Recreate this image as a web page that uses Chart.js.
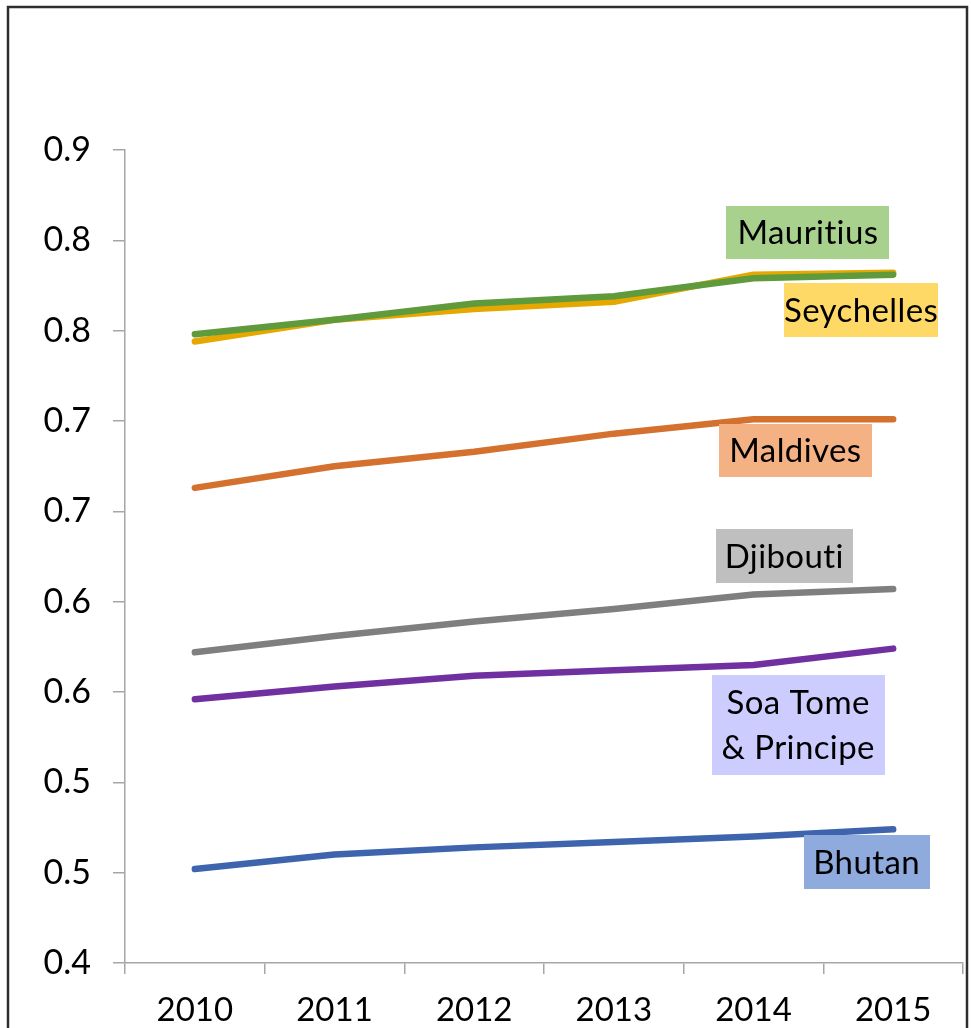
<!DOCTYPE html>
<html>
<head>
<meta charset="utf-8">
<title>Human Development Index, small island and small states, 2010–2015</title>
<script src="https://cdn.jsdelivr.net/npm/chart.js@4.4.1/dist/chart.umd.min.js"></script>
<style>
  html, body { margin: 0; padding: 0; background: #ffffff; }
  canvas { display: block; }
</style>
</head>
<body>
<canvas id="hdi" width="971" height="1028"></canvas>
<script>
// Years on the horizontal axis
const years = ['2010', '2011', '2012', '2013', '2014', '2015'];

// Index values per country
const mauritius  = [0.748, 0.756, 0.765, 0.769, 0.779, 0.781];
const seychelles = [0.744, 0.756, 0.762, 0.766, 0.781, 0.782];
const maldives   = [0.663, 0.675, 0.683, 0.693, 0.701, 0.701];
const djibouti   = [0.572, 0.581, 0.589, 0.596, 0.604, 0.607];
const saoTome    = [0.546, 0.553, 0.559, 0.562, 0.565, 0.574];
const bhutan     = [0.452, 0.460, 0.464, 0.467, 0.470, 0.474];

// Vertical axis labels, shown with one decimal
const yTickLabels = ['0.4', '0.5', '0.5', '0.6', '0.6', '0.7', '0.7', '0.8', '0.8', '0.9'];

const FONT = 'Lato, "Open Sans", sans-serif';
const AXIS_GREY = '#a6a6a6';

// Name tags placed beside the line ends (category index, value)
const nameTags = [
  { lines: ['Mauritius'],               at: [4.39, 0.8043], fill: '#a9d18e', w: 163, h: 53 },
  { lines: ['Seychelles'],              at: [4.77, 0.7614], fill: '#ffd966', w: 154, h: 54 },
  { lines: ['Maldives'],                at: [4.30, 0.6837], fill: '#f4b183', w: 153, h: 53 },
  { lines: ['Djibouti'],                at: [4.22, 0.6253], fill: '#bfbfbf', w: 137, h: 54 },
  { lines: ['Soa Tome', '& Principe'],  at: [4.32, 0.5317], fill: '#ccccff', w: 173, h: 100 },
  { lines: ['Bhutan'],                  at: [4.81, 0.4559], fill: '#8faadc', w: 126, h: 54 }
];

const framePlugin = {
  id: 'frame',
  beforeDraw(chart) {
    const { ctx, width, height } = chart;
    ctx.save();
    ctx.fillStyle = '#ffffff';
    ctx.fillRect(0, 0, width, height);
    ctx.strokeStyle = '#2e2e2e';
    ctx.lineWidth = 2.5;
    ctx.strokeRect(8, 7, 959, height + 20);
    ctx.restore();
  }
};

const tagPlugin = {
  id: 'nameTags',
  afterDatasetsDraw(chart) {
    const { ctx, scales } = chart;
    ctx.save();
    ctx.font = '33px ' + FONT;
    // a touch of spacing keeps "ti" from turning into a ligature
    ctx.letterSpacing = '0.4px';
    ctx.textAlign = 'center';
    ctx.textBaseline = 'middle';
    nameTags.forEach(tag => {
      const cx = scales.x.getPixelForDecimal((tag.at[0] + 0.5) / years.length);
      const cy = scales.y.getPixelForValue(tag.at[1]);
      ctx.fillStyle = tag.fill;
      ctx.fillRect(Math.round(cx - tag.w / 2), Math.round(cy - tag.h / 2), tag.w, tag.h);
      ctx.fillStyle = '#000000';
      const lh = 45;
      const y0 = cy - (tag.lines.length - 1) * lh / 2;
      tag.lines.forEach((t, i) => ctx.fillText(t, cx, y0 + i * lh + 1));
    });
    ctx.restore();
  }
};

function series(label, data, color) {
  return {
    label, data,
    borderColor: color,
    backgroundColor: color,
    borderWidth: 6.5,
    borderCapStyle: 'round',
    borderJoinStyle: 'round',
    pointRadius: 0,
    tension: 0,
    fill: false
  };
}

new Chart(document.getElementById('hdi'), {
  type: 'line',
  data: {
    labels: years,
    datasets: [
      series('Bhutan', bhutan, '#3d64ad'),
      series('Soa Tome & Principe', saoTome, '#7030a0'),
      series('Djibouti', djibouti, '#7f7f7f'),
      series('Maldives', maldives, '#d5712f'),
      series('Mauritius', mauritius, '#5f9a3c'),
      series('Seychelles', seychelles, '#e5a800')
    ]
  },
  options: {
    responsive: false,
    animation: false,
    layout: { padding: { top: 150, right: 8, left: 0, bottom: 0 } },
    plugins: {
      legend: { display: false },
      tooltip: { enabled: false }
    },
    scales: {
      x: {
        type: 'category',
        offset: true,
        grid: {
          offset: true,
          drawOnChartArea: false,
          drawTicks: true,
          tickLength: 11,
          color: AXIS_GREY,
          lineWidth: 1.5
        },
        border: { color: AXIS_GREY, width: 1.5 },
        ticks: {
          color: '#000000',
          font: { family: FONT, size: 33 },
          padding: 17,
          maxRotation: 0,
          autoSkip: false
        },
        afterFit(scale) { scale.height = 65; }
      },
      y: {
        min: 0.4,
        max: 0.85,
        grid: {
          drawOnChartArea: false,
          drawTicks: true,
          tickLength: 12,
          color: AXIS_GREY,
          lineWidth: 1.5
        },
        border: { color: AXIS_GREY, width: 1.5 },
        ticks: {
          stepSize: 0.05,
          color: '#000000',
          font: { family: FONT, size: 34 },
          padding: 22,
          callback: (v, i) => yTickLabels[i]
        },
        afterFit(scale) { scale.width = 125; }
      }
    }
  },
  plugins: [framePlugin, tagPlugin]
});
</script>
</body>
</html>
